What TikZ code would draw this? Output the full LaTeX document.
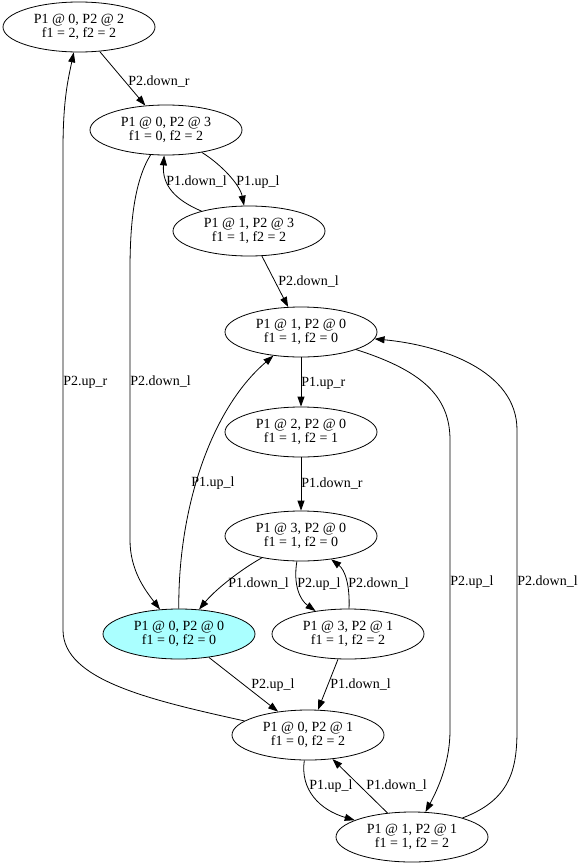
\documentclass[tikz,border=0pt]{standalone}
\usepackage{fontspec}
\setmainfont{Liberation Serif}
\usetikzlibrary{arrows.meta,shapes.geometric}
\definecolor{StateCyan}{HTML}{AAFFFF}

\begin{document}
\begin{tikzpicture}[
    x=1bp,y=-1bp,
    state/.style={ellipse,draw,line width=0.8bp,minimum width=152bp,minimum height=50bp,inner sep=0pt,align=center,font=\fontsize{14bp}{14bp}\selectfont},
    start/.style={state,fill=StateCyan},
    arr/.style={-{Triangle[length=10bp,width=7bp]},line width=0.8bp},
    lbl/.style={anchor=west,inner sep=0pt,font=\fontsize{14bp}{14bp}\selectfont}
  ]
    \useasboundingbox (0,0) rectangle (580,866);
    % states
    \node[state] (s02) at (79,27) {P1 @ 0, P2 @ 2\\f1 = 2, f2 = 2};
    \node[state] (s03) at (166,130) {P1 @ 0, P2 @ 3\\f1 = 0, f2 = 2};
    \node[state] (s13) at (249,231) {P1 @ 1, P2 @ 3\\f1 = 1, f2 = 2};
    \node[state] (s10) at (301,332) {P1 @ 1, P2 @ 0\\f1 = 1, f2 = 0};
    \node[state] (s20) at (301,432) {P1 @ 2, P2 @ 0\\f1 = 1, f2 = 1};
    \node[state] (s30) at (301,536) {P1 @ 3, P2 @ 0\\f1 = 1, f2 = 0};
    \node[start] (s00) at (179,634) {P1 @ 0, P2 @ 0\\f1 = 0, f2 = 0};
    \node[state] (s31) at (348,634) {P1 @ 3, P2 @ 1\\f1 = 1, f2 = 2};
    \node[state] (s01) at (308,735) {P1 @ 0, P2 @ 1\\f1 = 0, f2 = 2};
    \node[state] (s11) at (412,837) {P1 @ 1, P2 @ 1\\f1 = 1, f2 = 2};
    % transitions
    \draw[arr] (s02) -- (s03) node[lbl,at={(128,82)}] {P2.down\_r};
    \draw[arr] (s03) .. controls (222,165) and (240,185) .. (s13) node[lbl,at={(236,182)}] {P1.up\_l};
    \draw[arr] (s13) .. controls (175,200) and (162,185) .. (s03) node[lbl,at={(166,182)}] {P1.down\_l};
    \draw[arr] (s13) -- (s10) node[lbl,at={(278,282)}] {P2.down\_l};
    \draw[arr] (s10) -- (s20) node[lbl,at={(301,383)}] {P1.up\_r};
    \draw[arr] (s20) -- (s30) node[lbl,at={(301,484)}] {P1.down\_r};
    \draw[arr] (s30) .. controls (240,570) and (215,590) .. (s00) node[lbl,at={(228,584)}] {P1.down\_l};
    \draw[arr] (s30) .. controls (293,585) and (300,600) .. (s31) node[lbl,at={(297,584)}] {P2.up\_l};
    \draw[arr] (s31) .. controls (350,585) and (345,570) .. (s30) node[lbl,at={(348,584)}] {P2.down\_l};
    \draw[arr] (s00) .. controls (178,510) and (210,410) .. (s10) node[lbl,at={(191,483)}] {P1.up\_l};
    \draw[arr] (s03) .. controls (135,180) and (130,220) .. (130,270) -- (130,540)
      .. controls (130,570) and (145,590) .. (s00) node[lbl,at={(130,382)}] {P2.down\_l};
    \draw[arr] (s01) .. controls (150,700) and (63,680) .. (63,630) -- (63,150)
      .. controls (63,100) and (68,80) .. (s02) node[lbl,at={(63,382)}] {P2.up\_r};
    \draw[arr] (s00) -- (s01) node[lbl,at={(251,685)}] {P2.up\_l};
    \draw[arr] (s31) -- (s01) node[lbl,at={(330,685)}] {P1.down\_l};
    \draw[arr] (s01) .. controls (300,790) and (320,810) .. (s11) node[lbl,at={(309,786)}] {P1.up\_l};
    \draw[arr] (s11) -- (s01) node[lbl,at={(366,786)}] {P1.down\_l};
    \draw[arr] (s10) .. controls (420,370) and (450,395) .. (450,440) -- (450,730)
      .. controls (450,760) and (440,785) .. (s11) node[lbl,at={(450,582)}] {P2.up\_l};
    \draw[arr] (s11) .. controls (510,800) and (517,770) .. (517,730) -- (517,430)
      .. controls (517,370) and (440,345) .. (s10) node[lbl,at={(517,582)}] {P2.down\_l};
  \end{tikzpicture}
\end{document}
